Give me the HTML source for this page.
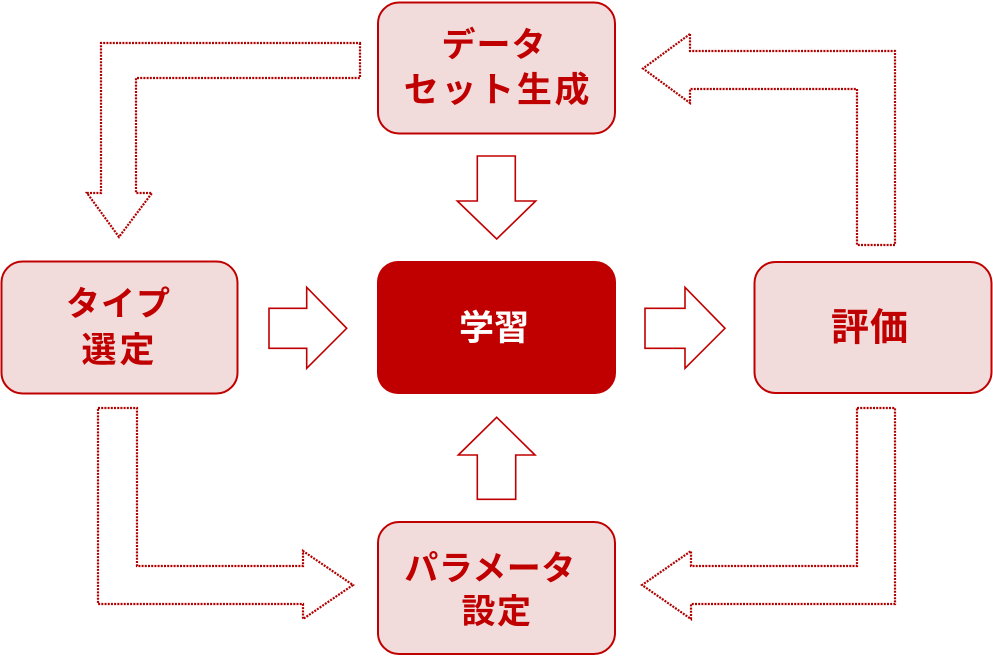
<!DOCTYPE html>
<html>
<head>
<meta charset="utf-8">
<style>
html,body{margin:0;padding:0;background:#fff;}
svg{display:block;}
text{font-family:"Liberation Sans","Noto Sans CJK JP",sans-serif;font-weight:700;}
</style>
</head>
<body>
<svg width="993" height="656" viewBox="0 0 993 656" xmlns="http://www.w3.org/2000/svg">
  <!-- dotted L-arrows -->
  <g fill="none" stroke="#B00000" stroke-width="2.2" stroke-dasharray="2 1.2">
    <polygon points="360,43 360,78 136,78 136,193 152,193 119,237 87,193 101,193 101,43"/>
    <polygon points="690,34 690,51 895,51 895,245 857,245 857,89 690,89 690,103 643,68.5"/>
    <polygon points="98,408 137,408 137,566 303,566 303,551 353,585 303,619 303,604 98,604"/>
    <polygon points="857,408 895,408 895,604 691,604 691,619 642,585 691,551 691,566 857,566"/>
  </g>

  <!-- solid block arrows -->
  <g fill="#fff" stroke="#C00000" stroke-width="1.6">
    <polygon points="477.3,156 515.3,156 515.3,201 535.7,201 496.7,239 457.3,201 477.3,201"/>
    <polygon points="496.7,417.3 535,455 515.7,455 515.7,499.3 477.3,499.3 477.3,455 458.3,455"/>
    <polygon points="269,308.3 306.7,308.3 306.7,287.3 346.7,328.3 306.7,368.3 306.7,348.3 269,348.3"/>
    <polygon points="645,308.3 685,308.3 685,287.3 725,328.3 685,368.3 685,348.3 645,348.3"/>
  </g>

  <!-- boxes -->
  <g fill="#F2DCDB" stroke="#C00000" stroke-width="2">
    <rect x="378" y="2.5" width="237" height="131" rx="21" ry="21"/>
    <rect x="1.5" y="261.5" width="236" height="132" rx="21" ry="21"/>
    <rect x="754.5" y="262" width="237" height="131" rx="21" ry="21"/>
    <rect x="378" y="522" width="237" height="132" rx="21" ry="21"/>
  </g>
  <rect x="377" y="261" width="239" height="133" rx="21" ry="21" fill="#C00000"/>

  <!-- labels -->
  <g fill="#C00000" text-anchor="middle">
    <text x="494" y="56.5" font-size="34" letter-spacing="1">データ</text>
    <text x="498" y="102" font-size="35" letter-spacing="2.7">セット生成</text>
    <text x="118.5" y="315.5" font-size="34" letter-spacing="1">タイプ</text>
    <text x="119.5" y="362" font-size="35" letter-spacing="3">選定</text>
    <text x="870" y="340.5" font-size="38" letter-spacing="1">評価</text>
    <text x="490" y="580" font-size="34" letter-spacing="0.5">パラメータ</text>
    <text x="497" y="623" font-size="34" letter-spacing="1.5">設定</text>
  </g>
  <text x="494" y="340" font-size="35" fill="#fff" text-anchor="middle">学習</text>
</svg>
</body>
</html>
